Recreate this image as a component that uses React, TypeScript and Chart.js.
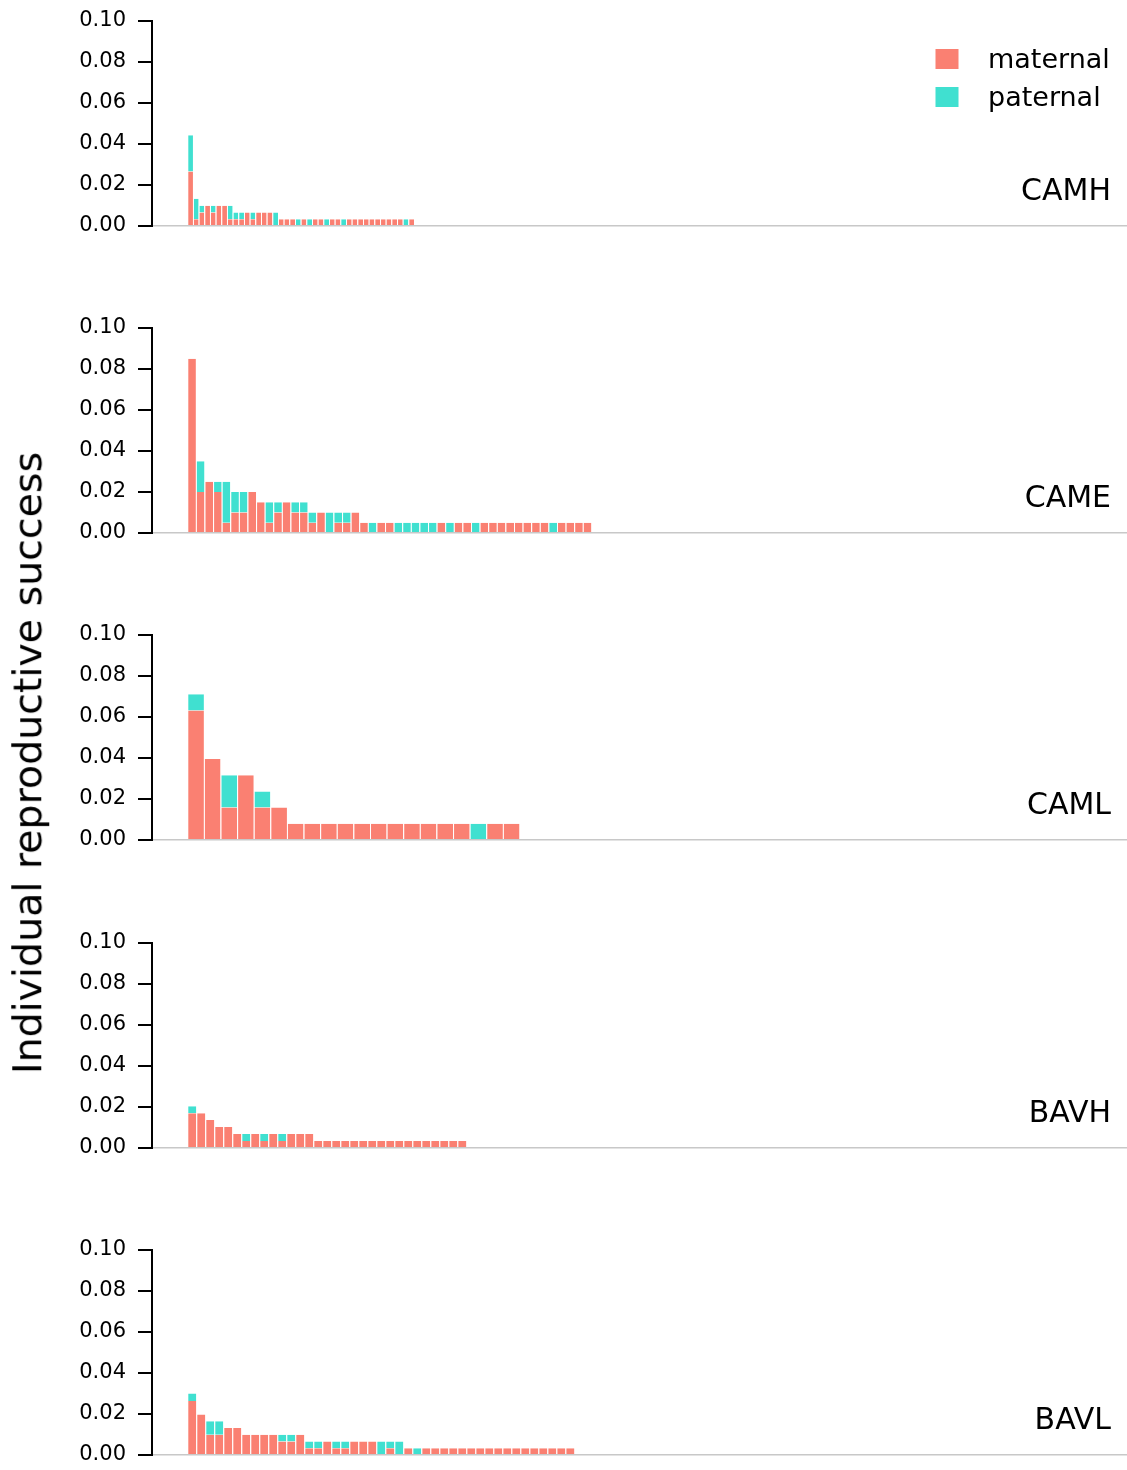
import React, { useEffect, useRef } from "react";
import { Chart, registerables } from "chart.js";

Chart.register(...registerables);

// ---------------- data ----------------
const seriesNames = ["maternal", "paternal"];
const panelNames = ["CAMH", "CAME", "CAML", "BAVH", "BAVL"];
const yTickValues = [0, 0.02, 0.04, 0.06, 0.08, 0.1];

const camhMaternal = [
  0.0266, 0.0033, 0.0066, 0.0099, 0.0066, 0.0099, 0.0099, 0.0033, 0.0033, 0.0033,
  0.0066, 0.0033, 0.0066, 0.0066, 0.0066, 0, 0.0033, 0.0033, 0.0033, 0,
  0.0033, 0, 0.0033, 0.0033, 0, 0.0033, 0.0033, 0, 0.0033, 0.0033,
  0.0033, 0.0033, 0.0033, 0.0033, 0.0033, 0.0033, 0.0033, 0.0033, 0, 0.0033,
];
const camhPaternal = [
  0.0177, 0.01, 0.0033, 0, 0.0033, 0, 0, 0.0066, 0.0033, 0.0033,
  0, 0.0033, 0, 0, 0, 0.0066, 0, 0, 0, 0.0033,
  0, 0.0033, 0, 0, 0.0033, 0, 0, 0.0033, 0, 0,
  0, 0, 0, 0, 0, 0, 0, 0, 0.0033, 0,
];

const cameMaternal = [
  0.085, 0.02, 0.025, 0.02, 0.005, 0.01, 0.01, 0.02, 0.015, 0.005,
  0.01, 0.015, 0.01, 0.01, 0.005, 0.01, 0, 0.005, 0.005, 0.01,
  0.005, 0, 0.005, 0.005, 0, 0, 0, 0, 0, 0.005,
  0, 0.005, 0.005, 0, 0.005, 0.005, 0.005, 0.005, 0.005, 0.005,
  0.005, 0.005, 0, 0.005, 0.005, 0.005, 0.005,
];
const camePaternal = [
  0, 0.015, 0, 0.005, 0.02, 0.01, 0.01, 0, 0, 0.01,
  0.005, 0, 0.005, 0.005, 0.005, 0, 0.01, 0.005, 0.005, 0,
  0, 0.005, 0, 0, 0.005, 0.005, 0.005, 0.005, 0.005, 0,
  0.005, 0, 0, 0.005, 0, 0, 0, 0, 0, 0,
  0, 0, 0.005, 0, 0, 0, 0,
];

const camlMaternal = [
  0.0632, 0.0395, 0.0158, 0.0316, 0.0158, 0.0158, 0.0079, 0.0079, 0.0079, 0.0079,
  0.0079, 0.0079, 0.0079, 0.0079, 0.0079, 0.0079, 0.0079, 0, 0.0079, 0.0079,
];
const camlPaternal = [
  0.0079, 0, 0.0158, 0, 0.0079, 0, 0, 0, 0, 0,
  0, 0, 0, 0, 0, 0, 0, 0.0079, 0, 0,
];

const bavhMaternal = [
  0.017, 0.017, 0.0136, 0.0102, 0.0102, 0.0068, 0.0034, 0.0068, 0.0034, 0.0068,
  0.0034, 0.0068, 0.0068, 0.0068, 0.0034, 0.0034, 0.0034, 0.0034, 0.0034, 0.0034,
  0.0034, 0.0034, 0.0034, 0.0034, 0.0034, 0.0034, 0.0034, 0.0034, 0.0034, 0.0034,
  0.0034,
];
const bavhPaternal = [
  0.0034, 0, 0, 0, 0, 0, 0.0034, 0, 0.0034, 0,
  0.0034, 0, 0, 0, 0, 0, 0, 0, 0, 0,
  0, 0, 0, 0, 0, 0, 0, 0, 0, 0,
  0,
];

const bavlMaternal = [
  0.0264, 0.0198, 0.0099, 0.0099, 0.0132, 0.0132, 0.0099, 0.0099, 0.0099, 0.0099,
  0.0066, 0.0066, 0.0099, 0.0033, 0.0033, 0.0066, 0.0033, 0.0033, 0.0066, 0.0066,
  0.0066, 0, 0.0033, 0, 0.0033, 0, 0.0033, 0.0033, 0.0033, 0.0033,
  0.0033, 0.0033, 0.0033, 0.0033, 0.0033, 0.0033, 0.0033, 0.0033, 0.0033, 0.0033,
  0.0033, 0.0033, 0.0033,
];
const bavlPaternal = [
  0.0036, 0, 0.0066, 0.0066, 0, 0, 0, 0, 0, 0,
  0.0033, 0.0033, 0, 0.0033, 0.0033, 0, 0.0033, 0.0033, 0, 0,
  0, 0.0066, 0.0033, 0.0066, 0, 0.0033, 0, 0, 0, 0,
  0, 0, 0, 0, 0, 0, 0, 0, 0, 0,
  0, 0, 0,
];

const maternalByPanel = [camhMaternal, cameMaternal, camlMaternal, bavhMaternal, bavlMaternal];
const paternalByPanel = [camhPaternal, camePaternal, camlPaternal, bavhPaternal, bavlPaternal];

// ---------------- layout & style ----------------
const FONT = "'DejaVu Sans', 'Liberation Sans', sans-serif";
const SALMON = "#FA8072";
const TURQUOISE = "#40E0D0";
const PAGE_W = 1127;
const PAGE_H = 1470;
// page y of each panel's 0.10 line
const PANEL_TOPS = [21, 328, 635, 943, 1250];
const PLOT_H = 205;
const PAD = 40;
const CANVAS_H = PLOT_H + 2 * PAD;
const AXIS_X = 152;
const LEAD_FRACTION = 35.3 / 975;
const panelSlots = [172, 113.4, 58.7, 108.3, 108.3];
const LABEL_LEVEL = 0.0165;

function makeTextPlugin(index: number) {
  return {
    id: "panelText" + index,
    afterDraw(chart: any) {
      const { ctx, chartArea, scales } = chart;
      ctx.save();
      ctx.fillStyle = "#000";
      ctx.font = `30px ${FONT}`;
      ctx.textAlign = "right";
      ctx.textBaseline = "middle";
      ctx.fillText(panelNames[index], chartArea.right - 16, scales.y.getPixelForValue(LABEL_LEVEL));
      if (index === 0) {
        ctx.font = `27px ${FONT}`;
        ctx.textAlign = "left";
        chart.data.datasets.forEach((ds: any, k: number) => {
          const cy = chartArea.top + 38 + k * 38;
          ctx.fillStyle = ds.backgroundColor;
          ctx.fillRect(935.5, cy - 10, 23, 20);
          ctx.fillStyle = "#000";
          ctx.fillText(ds.label, 988, cy + 2);
        });
      }
      ctx.restore();
    },
  };
}

function Panel({ index }: { index: number }) {
  const ref = useRef<HTMLCanvasElement | null>(null);
  useEffect(() => {
    const canvas = ref.current;
    if (!canvas) return;
    const slots = panelSlots[index];
    const xMin = -0.5 - LEAD_FRACTION * slots;
    const toPoints = (arr: number[]) => arr.map((v, i) => ({ x: i, y: v }));
    const barStyle = {
      barPercentage: 1,
      categoryPercentage: 1,
      borderWidth: { top: 0, right: 0, bottom: 0, left: 1 },
      borderColor: "rgba(255,255,255,0.9)",
      borderSkipped: "start",
      inflateAmount: 0,
    };
    const chart = new Chart(canvas, {
      type: "bar",
      data: {
        datasets: [
          { label: seriesNames[0], data: toPoints(maternalByPanel[index]), backgroundColor: SALMON, ...barStyle } as any,
          { label: seriesNames[1], data: toPoints(paternalByPanel[index]), backgroundColor: TURQUOISE, ...barStyle } as any,
        ],
      },
      options: {
        responsive: false,
        animation: false,
        events: [],
        layout: { padding: { top: PAD, bottom: PAD, left: 0, right: 0 } },
        scales: {
          x: {
            type: "linear",
            stacked: true,
            offset: false,
            min: xMin,
            max: xMin + slots,
            ticks: { display: false },
            grid: { display: false, drawTicks: false, tickLength: 0 },
            border: { display: true, color: "#c8c8c8", width: 1.5 },
          },
          y: {
            type: "linear",
            stacked: true,
            min: 0,
            max: 0.1,
            afterBuildTicks: (scale: any) => {
              scale.ticks = yTickValues.map((v) => ({ value: v }));
            },
            afterFit: (scale: any) => {
              scale.width = AXIS_X;
            },
            ticks: {
              color: "#000",
              padding: 12,
              font: { family: FONT, size: 21 },
              callback: (v: any) => Number(v).toFixed(2),
            },
            grid: {
              display: true,
              drawOnChartArea: false,
              drawTicks: true,
              tickLength: 14,
              color: "#000",
              lineWidth: 2,
            },
            border: { display: true, color: "#000", width: 2 },
          },
        },
        plugins: {
          legend: { display: false },
          tooltip: { enabled: false },
          title: { display: false },
        },
      } as any,
      plugins: [makeTextPlugin(index)],
    });
    return () => chart.destroy();
  }, [index]);
  return (
    <canvas
      ref={ref}
      width={PAGE_W}
      height={CANVAS_H}
      style={{
        position: "absolute",
        left: 0,
        top: PANEL_TOPS[index] - PAD,
        width: PAGE_W,
        height: CANVAS_H,
      }}
    />
  );
}

export default function App() {
  return (
    <div
      style={{
        position: "absolute",
        left: 0,
        top: 0,
        width: PAGE_W,
        height: PAGE_H,
        overflow: "hidden",
        background: "#fff",
      }}
    >
      {panelNames.map((name, i) => (
        <Panel key={name} index={i} />
      ))}
      <div
        style={{
          position: "absolute",
          left: 28,
          top: 762.5,
          transform: "translate(-50%, -50%) rotate(-90deg)",
          whiteSpace: "nowrap",
          fontFamily: FONT,
          fontSize: 39.5,
          lineHeight: 1,
          color: "#000",
        }}
      >
        Individual reproductive success
      </div>
    </div>
  );
}
